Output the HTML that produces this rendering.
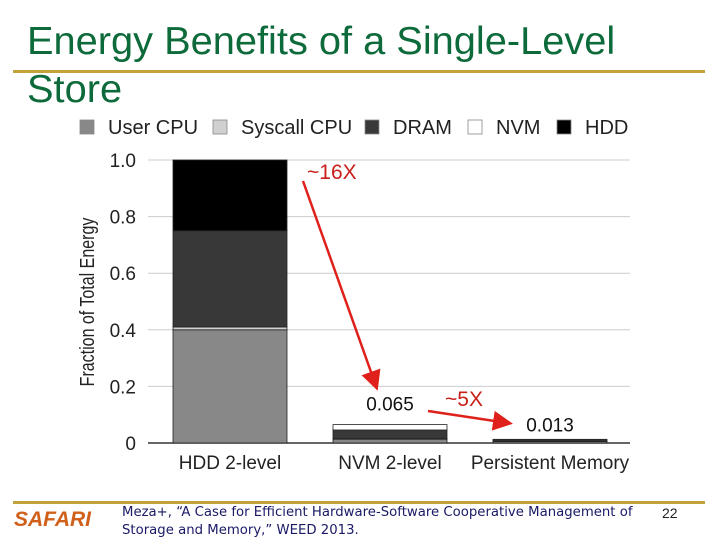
<!DOCTYPE html>
<html><head><meta charset="utf-8"><style>
body{margin:0;background:#fff;}
#wrap{position:relative;width:720px;height:540px;overflow:hidden;font-family:"Liberation Sans",sans-serif;}
.title{position:absolute;left:27px;top:18px;font-size:39px;line-height:48px;color:#0d6a3a;transform:scaleX(1.02);transform-origin:left;white-space:nowrap;}
</style></head><body>
<div id="wrap">
<div class="title">Energy Benefits of a Single-Level<br>Store</div>
<div style="position:absolute;left:13px;top:70px;width:692px;height:3px;background:#c3a23a"></div>
<svg id="chart" width="720" height="540" style="position:absolute;left:0;top:0" font-family="Liberation Sans, sans-serif"></svg>
<div style="position:absolute;left:13px;top:501px;width:692px;height:3px;background:#c3a23a"></div>
<div style="position:absolute;left:14px;top:508px;font-size:21px;font-weight:bold;font-style:italic;color:#d0601a">SAFARI</div>
<div style="position:absolute;left:122px;top:504px;font-size:13px;line-height:18px;color:#1a1a66;font-family:'DejaVu Sans',sans-serif;white-space:nowrap;transform:scaleX(1.02);transform-origin:left">Meza+, “A Case for Efficient Hardware-Software Cooperative Management of<br>Storage and Memory,” WEED 2013.</div>
<div style="position:absolute;left:662px;top:505px;font-size:14px;color:#222">22</div>
</div>
<script>
const categories=["HDD 2-level","NVM 2-level","Persistent Memory"];
const seriesNames=["User CPU","Syscall CPU","DRAM","NVM","HDD"];
const userCPU=[0.40,0.012,0.005];
const syscallCPU=[0.01,0.004,0.002];
const dram=[0.34,0.03,0.006];
const nvm=[0,0.019,0];
const hdd=[0.25,0,0];
const totalLabels=["","0.065","0.013"];
const yTicks=[0,0.2,0.4,0.6,0.8,1.0];
const yTickLabels=["0","0.2","0.4","0.6","0.8","1.0"];
const colors=["#888","#d0d0d0","#383838","#fff","#000"];
const svg=document.getElementById('chart');
const NS="http://www.w3.org/2000/svg";
function mk(t,a,txt){const e=document.createElementNS(NS,t);for(const k in a)e.setAttribute(k,a[k]);if(txt!==undefined)e.textContent=txt;svg.appendChild(e);return e;}
const y0=443,yH=283;
function ys(v){return y0-v*yH;}
const xL=152,bandW=160,barW=114;
function xs(i){return xL+i*bandW+21;}
yTicks.forEach((t,i)=>{
 const g=mk('line',{x1:148,x2:630,y1:ys(t),y2:ys(t),stroke:t===0?'#333':'#ccc','stroke-width':t===0?1.5:1});
 
 const l=mk('text',{x:136,y:ys(t)+7,'text-anchor':'end','font-size':19,fill:'#222'},yTickLabels[i]);
 
});
const yt=mk('text',{transform:'translate(94,302) rotate(-90) scale(0.8,1)','text-anchor':'middle','font-size':20,fill:'#222'},'Fraction of Total Energy');

const series=[userCPU,syscallCPU,dram,nvm,hdd];
categories.forEach((c,i)=>{
 let acc=0;
 series.forEach((s,k)=>{
  const v=s[i];if(v<=0)return;
  const r=mk('rect',{x:xs(i),y:ys(acc+v),width:barW,height:v*yH,fill:colors[k],stroke:'#222','stroke-width':0.8});
  
  acc+=v;
 });
 const cl=mk('text',{x:xs(i)+barW/2,y:469,'text-anchor':'middle','font-size':19,fill:'#222'},c);
 
 if(totalLabels[i]){const tl=mk('text',{x:xs(i)+barW/2,y:ys(acc)-(i==1?14:8),'text-anchor':'middle','font-size':19,fill:'#111'},totalLabels[i]);
 }
});
const legX=[80,213,365,468,557];
seriesNames.forEach((n,k)=>{
 const r=mk('rect',{x:legX[k],y:120,width:14,height:14,fill:colors[k],stroke:'#888','stroke-width':0.8});
 
 const t=mk('text',{x:legX[k]+28,y:134,'font-size':20,fill:'#222'},n);
 
});
const defs=mk('defs',{});
const mkr=document.createElementNS(NS,'marker');
[['id','ah'],['markerWidth','8'],['markerHeight','8'],['refX','6'],['refY','4'],['orient','auto'],['markerUnits','strokeWidth']].forEach(p=>mkr.setAttribute(p[0],p[1]));
const mp=document.createElementNS(NS,'path');mp.setAttribute('d','M0,0 L8,4 L0,8 z');mp.setAttribute('fill','#e0201a');mkr.appendChild(mp);defs.appendChild(mkr);
const a1=mk('line',{x1:303,y1:181,x2:376,y2:386,stroke:'#e0201a','stroke-width':2.5,'marker-end':'url(#ah)'});

const a2=mk('line',{x1:428,y1:411,x2:508,y2:423,stroke:'#e0201a','stroke-width':2.5,'marker-end':'url(#ah)'});

const t1=mk('text',{x:307,y:179,'font-size':21,fill:'#c8201a'},'~16X');

const t2=mk('text',{x:445,y:406,'font-size':21,fill:'#c8201a'},'~5X');

</script>
</body></html>
